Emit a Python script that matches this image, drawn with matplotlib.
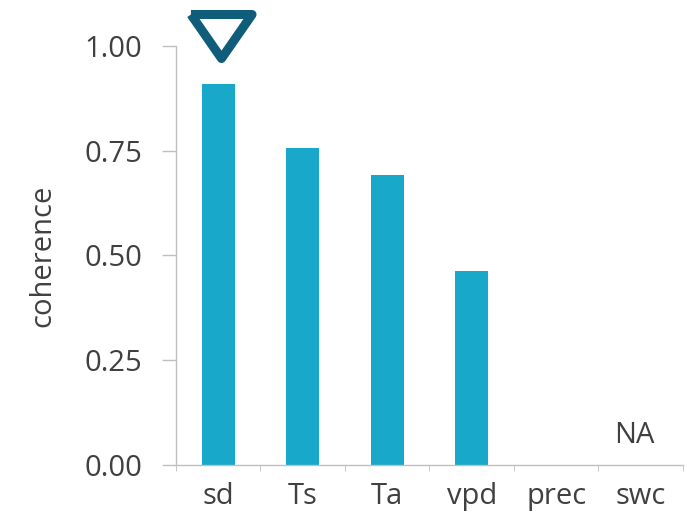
import matplotlib
matplotlib.use("Agg")
import matplotlib.pyplot as plt
from matplotlib.markers import MarkerStyle
import numpy as np

categories = ["sd", "Ts", "Ta", "vpd", "prec", "swc"]
coherence = [0.91, 0.757, 0.693, 0.463, 0.0, 0.0]
yticks = [0.0, 0.25, 0.50, 0.75, 1.00]
marker_cat = "sd"
na_cat = "swc"

plt.rcParams["font.family"] = ["Open Sans", "DejaVu Sans"]
gray = "#404040"
axis_gray = "#bfbfbf"
fs = 21

fig = plt.figure(figsize=(6.87, 5.16), dpi=100)
ax = fig.add_axes([0.256, 0.099, 0.738, 0.812])

x = np.arange(len(categories))
ax.bar(x, coherence, width=0.39, color="#17a8ca")

# open downward triangle above the strongest driver
tri = [(-1, 0.72), (1, 0.72), (0, -0.72), (-1, 0.72)]
i = categories.index(marker_cat)
ax.plot([x[i] + 0.03], [1.023], marker=MarkerStyle(tri, joinstyle="round"),
        markersize=44, markerfacecolor="none", markeredgecolor="#0f5d7b",
        markeredgewidth=6.5, clip_on=False, linestyle="none")

ax.text(categories.index(na_cat) - 0.07, 0.07, "NA", ha="center", va="center",
        fontsize=fs, color=gray)

ax.set_xlim(-0.5, len(categories) - 0.5)
ax.set_ylim(0, 1.0)
ax.set_yticks(yticks, [f"{v:.2f}" for v in yticks])
ax.set_xticks(x, categories)
ax.set_xticks(np.arange(-0.5, len(categories)), minor=True)
ax.tick_params(axis="y", length=10, width=1, color=axis_gray, labelsize=fs,
               labelcolor=gray, pad=14)
ax.tick_params(axis="x", which="major", length=0, labelsize=fs,
               labelcolor=gray, pad=12)
ax.tick_params(axis="x", which="minor", length=4, color=axis_gray)
ax.set_ylabel("coherence", fontsize=fs, color=gray, labelpad=20)

for s in ["top", "right"]:
    ax.spines[s].set_visible(False)
for s in ["left", "bottom"]:
    ax.spines[s].set_color(axis_gray)
    ax.spines[s].set_linewidth(1)

fig.savefig("out.png", dpi=100)
